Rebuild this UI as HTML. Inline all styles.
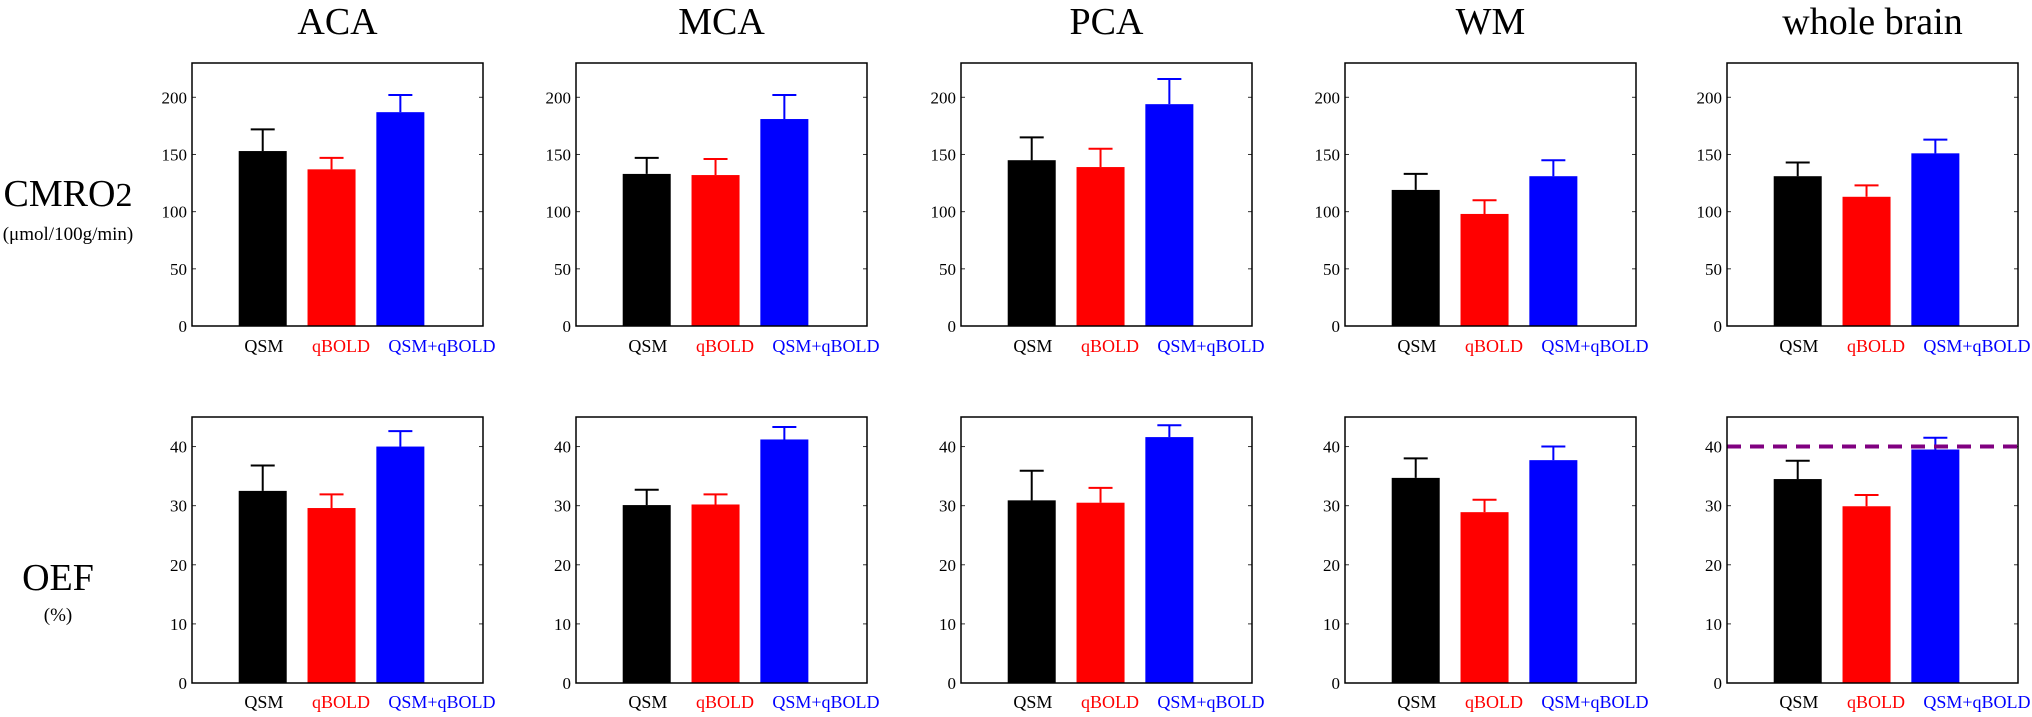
<!DOCTYPE html>
<html><head><meta charset="utf-8"><style>
html,body{margin:0;padding:0;background:#fff;}
svg{display:block;font-family:"Liberation Serif",serif;}
</style></head><body>
<svg id="chart" width="2032" height="717" viewBox="0 0 2032 717" xmlns="http://www.w3.org/2000/svg">
<text x="68" y="206" font-size="38" text-anchor="middle">CMRO<tspan font-size="34">2</tspan></text>
<text x="68" y="240" font-size="19" text-anchor="middle">(μmol/100g/min)</text>
<text x="58" y="590" font-size="38" text-anchor="middle">OEF</text>
<text x="58" y="621" font-size="19" text-anchor="middle">(%)</text>
</svg>
<script>
const regions = ["ACA","MCA","PCA","WM","whole brain"];
const methods = ["QSM","qBOLD","QSM+qBOLD"];
const cmroMean = [[153,137,187],[133,132,181],[145,139,194],[119,98,131],[131,113,151]];
const cmroErr  = [[19,10,15],[14,14,21],[20,16,22],[14,12,14],[12,10,12]];
const oefMean  = [[32.5,29.6,40],[30.1,30.2,41.2],[30.9,30.5,41.6],[34.7,28.9,37.7],[34.5,29.9,39.5]];
const oefErr   = [[4.3,2.3,2.6],[2.6,1.7,2.1],[5,2.5,2],[3.3,2.1,2.3],[3.1,1.9,2]];
const cmroTicks = [0,50,100,150,200];
const oefTicks = [0,10,20,30,40];
const refLine = 40;

const NS="http://www.w3.org/2000/svg";
const svg=document.getElementById('chart');
const colors=["#000","#ff0000","#0000ff"];
const labelFrac=[0.247,0.512,0.859];
function mk(tag,attrs,parent){const e=document.createElementNS(NS,tag);for(const k in attrs)e.setAttribute(k,attrs[k]);(parent||svg).appendChild(e);return e;}
const W=291, lefts=[192,576,961,1345,1727];
const rows=[{top:63,bottom:326,max:230,means:cmroMean,errs:cmroErr,ticks:cmroTicks,key:'cmro2',labY:352},
            {top:417,bottom:683,max:45,means:oefMean,errs:oefErr,ticks:oefTicks,key:'oef',labY:708}];
regions.forEach((r,p)=>{
  const L=lefts[p];
  const t=mk('text',{x:L+W/2,y:34,'font-size':38,'text-anchor':'middle'});
  t.textContent=r;
  
  
  rows.forEach((row,ri)=>{
    const g=mk('g',{});
    
    
    const y=v=>row.bottom-(v/row.max)*(row.bottom-row.top);
    const xc=i=>L+W*(0.243+0.2365*i);
    const bw=W*0.165;
    row.ticks.forEach(tv=>{
      const yy=y(tv);
      const tl=mk('text',{x:L-5,y:yy+6,'font-size':17,'text-anchor':'end'},g);
      tl.textContent=tv;
      
      
      mk('line',{x1:L,x2:L+4,y1:yy,y2:yy,stroke:'#333','stroke-width':1},g);
      mk('line',{x1:L+W-4,x2:L+W,y1:yy,y2:yy,stroke:'#333','stroke-width':1},g);
    });
    methods.forEach((m,i)=>{
      const v=row.means[p][i], e=row.errs[p][i], c=xc(i);
      const b=mk('rect',{x:c-bw/2,y:y(v),width:bw,height:row.bottom-y(v),fill:colors[i]},g);
      
      
      const eb=mk('path',{d:`M${c},${y(v)}V${y(v+e)}M${c-12},${y(v+e)}H${c+12}`,stroke:colors[i],'stroke-width':2,fill:'none'},g);
      
      
      const lb=mk('text',{x:L+W*labelFrac[i],y:row.labY,'font-size':18,'text-anchor':'middle',fill:colors[i]},g);
      lb.textContent=m;
      
      
    });
    if(ri===1 && p===4){
      const dl=mk('line',{x1:L,x2:L+W,y1:y(refLine),y2:y(refLine),stroke:'#800080','stroke-width':4,'stroke-dasharray':'14,9'},g);
      
      
    }
    const ax=mk('rect',{x:L,y:row.top,width:W,height:row.bottom-row.top,fill:'none',stroke:'#000','stroke-width':1.5},g);
    
    
  });
});
</script>
</body></html>
